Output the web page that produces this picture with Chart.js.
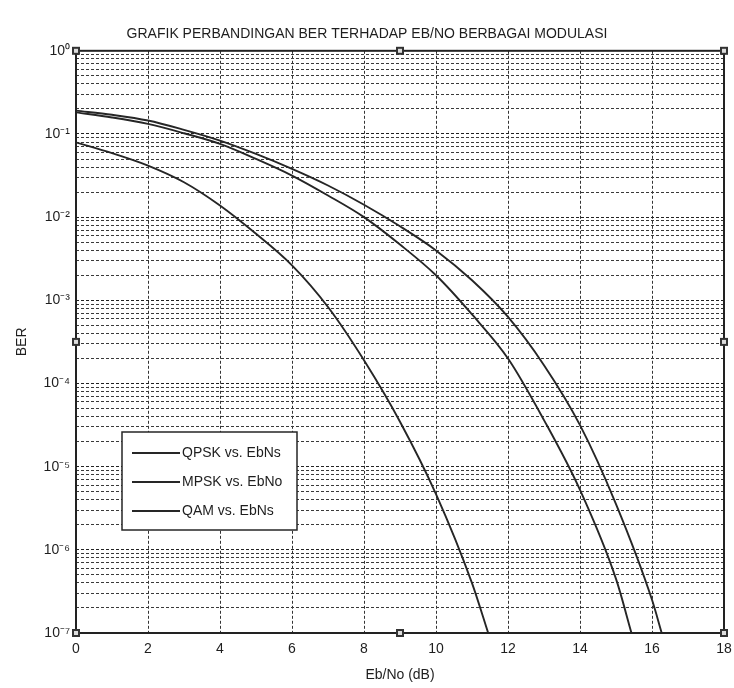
<!DOCTYPE html>
<html>
<head>
<meta charset="utf-8">
<script src="https://cdn.jsdelivr.net/npm/chart.js@4.4.0/dist/chart.umd.min.js"></script>
<style>
  html, body { margin: 0; padding: 0; background: #fff; }
  #wrap { width: 734px; height: 688px; }
</style>
</head>
<body>
<div id="wrap"><canvas id="berChart"></canvas></div>
<script>
// values (BER vs Eb/No)
const ebnoQpsk = [0, 1, 2, 3, 4, 5, 6, 7, 8, 9, 10, 11, 12, 13, 14, 15, 15.43];
const berQpsk  = [0.182, 0.158, 0.132, 0.102, 0.0759, 0.0501, 0.0316, 0.0182, 0.01, 0.00468, 0.002, 6.76e-4, 2.0e-4, 3.63e-5, 5.25e-6, 4.47e-7, 1e-7];

const ebnoMpsk = [0, 1, 2, 3, 4, 5, 6, 7, 8, 9, 10, 11, 12, 13, 14, 15, 16, 16.27];
const berMpsk  = [0.191, 0.17, 0.145, 0.112, 0.0832, 0.0575, 0.038, 0.024, 0.0141, 0.00776, 0.00398, 0.00174, 6.31e-4, 1.66e-4, 3.16e-5, 3.55e-6, 2.51e-7, 1e-7];

const ebnoQam = [0, 1, 2, 3, 4, 5, 6, 7, 8, 9, 10, 11, 11.45];
const berQam  = [0.0794, 0.0589, 0.0417, 0.0263, 0.0138, 0.0063, 0.00263, 8.3e-4, 1.9e-4, 3.47e-5, 4.68e-6, 3.98e-7, 1e-7];

const seriesNames = ['QPSK vs. EbNs', 'MPSK vs. EbNo', 'QAM vs. EbNs'];
const xTicks = [0, 2, 4, 6, 8, 10, 12, 14, 16, 18];
const decades = [-7, -6, -5, -4, -3, -2, -1, 0];
const supers = {'-': '\u207B', '0': '\u2070', '1': '\u00B9', '2': '\u00B2', '3': '\u00B3', '4': '\u2074', '5': '\u2075', '6': '\u2076', '7': '\u2077'};

const fontName = "'Liberation Sans Narrow', 'Arial Narrow', 'Liberation Sans', sans-serif";
const ink = '#262626';

function toPoints(xs, ys) {
    return xs.map((x, i) => ({x: x, y: ys[i]}));
}

function isDecade(v) {
    const l = Math.log10(v);
    return Math.abs(l - Math.round(l)) < 1e-6;
}

// legend box drawn inside the plot, lower left
const insideLegend = {
    id: 'insideLegend',
    afterDraw(chart) {
        const ctx = chart.ctx;
        const a = chart.chartArea;
        const x0 = a.left + 46, y0 = 432, w = 175, h = 98;
        ctx.save();
        ctx.fillStyle = '#fff';
        ctx.fillRect(x0, y0, w, h);
        ctx.strokeStyle = ink;
        ctx.lineWidth = 1.5;
        ctx.strokeRect(x0, y0, w, h);
        ctx.font = '14px ' + fontName;
        ctx.textBaseline = 'middle';
        chart.data.datasets.forEach((ds, i) => {
            const yy = y0 + 21 + i * 29;
            ctx.beginPath();
            ctx.moveTo(x0 + 10, yy);
            ctx.lineTo(x0 + 58, yy);
            ctx.strokeStyle = ds.borderColor;
            ctx.lineWidth = 1.8;
            ctx.stroke();
            ctx.fillStyle = '#1e1e1e';
            ctx.fillText(ds.label, x0 + 60, yy);
        });
        ctx.restore();
    }
};

// solid frame plus the little selection handles seen on the scan
const frameHandles = {
    id: 'frameHandles',
    afterDraw(chart) {
        const ctx = chart.ctx;
        const a = chart.chartArea;
        ctx.save();
        ctx.strokeStyle = '#222';
        ctx.lineWidth = 2;
        ctx.strokeRect(a.left, a.top, a.right - a.left, a.bottom - a.top);
        const mx = chart.scales.x.getPixelForValue(9);
        const my = (a.top + a.bottom) / 2;
        const spots = [[a.left, a.top], [mx, a.top], [a.right, a.top],
                       [a.left, my], [a.right, my],
                       [a.left, a.bottom], [mx, a.bottom], [a.right, a.bottom]];
        ctx.fillStyle = '#333';
        spots.forEach(p => ctx.fillRect(p[0] - 4, p[1] - 4, 8, 8));
        ctx.fillStyle = '#ddd';
        spots.forEach(p => ctx.fillRect(p[0] - 2, p[1] - 2, 4, 4));
        ctx.restore();
    }
};

const ctx = document.getElementById('berChart').getContext('2d');

const chart = new Chart(ctx, {
    type: 'line',
    data: {
        datasets: [
            {label: seriesNames[0], data: toPoints(ebnoQpsk, berQpsk)},
            {label: seriesNames[1], data: toPoints(ebnoMpsk, berMpsk)},
            {label: seriesNames[2], data: toPoints(ebnoQam, berQam)}
        ].map(d => Object.assign(d, {
            borderColor: ink,
            borderWidth: 1.9,
            pointRadius: 0,
            cubicInterpolationMode: 'monotone',
            fill: false
        }))
    },
    options: {
        responsive: true,
        maintainAspectRatio: false,
        animation: false,
        layout: {padding: {left: 0, right: 0, top: 0, bottom: 0}},
        plugins: {
            legend: {display: false},
            tooltip: {enabled: false},
            title: {
                display: true,
                text: 'GRAFIK PERBANDINGAN BER TERHADAP EB/NO BERBAGAI MODULASI',
                color: '#1e1e1e',
                font: {family: fontName, size: 14, weight: 'normal'},
                padding: {top: 26, bottom: 8}
            }
        },
        scales: {
            x: {
                type: 'linear',
                min: 0,
                max: 18,
                afterBuildTicks: s => { s.ticks = xTicks.map(v => ({value: v})); },
                afterFit: s => { s.height = 55; s.paddingRight = 10; s.paddingLeft = 0; },
                ticks: {
                    color: '#1e1e1e',
                    font: {family: fontName, size: 14},
                    padding: 8,
                    maxRotation: 0
                },
                grid: {color: '#333', lineWidth: 1, drawTicks: false},
                border: {display: false, dash: [3, 2]},
                title: {
                    display: true,
                    text: 'Eb/No (dB)',
                    color: '#1e1e1e',
                    font: {family: fontName, size: 14},
                    padding: {top: 4}
                }
            },
            y: {
                type: 'logarithmic',
                min: 1e-7,
                max: 1,
                afterBuildTicks: s => {
                    const t = [];
                    decades.forEach(k => {
                        const top = k === 0 ? 1 : 9;
                        for (let m = 1; m <= top; m++) t.push({value: m * Math.pow(10, k)});
                    });
                    s.ticks = t;
                },
                afterFit: s => { s.width = 76; },
                ticks: {
                    color: '#1e1e1e',
                    font: {family: fontName, size: 14},
                    padding: 6,
                    autoSkip: false,
                    callback: v => {
                        if (!isDecade(v)) return '';
                        const p = String(Math.round(Math.log10(v)));
                        return '10' + p.split('').map(c => supers[c]).join('');
                    }
                },
                grid: {
                    color: c => isDecade(c.tick.value) ? '#222' : '#3a3a3a',
                    lineWidth: 1,
                    drawTicks: false
                },
                border: {display: false, dash: [3, 2]},
                title: {
                    display: true,
                    text: 'BER',
                    color: '#1e1e1e',
                    font: {family: fontName, size: 14},
                    padding: {top: 14, bottom: 0}
                }
            }
        }
    },
    plugins: [insideLegend, frameHandles]
});
</script>
</body>
</html>
